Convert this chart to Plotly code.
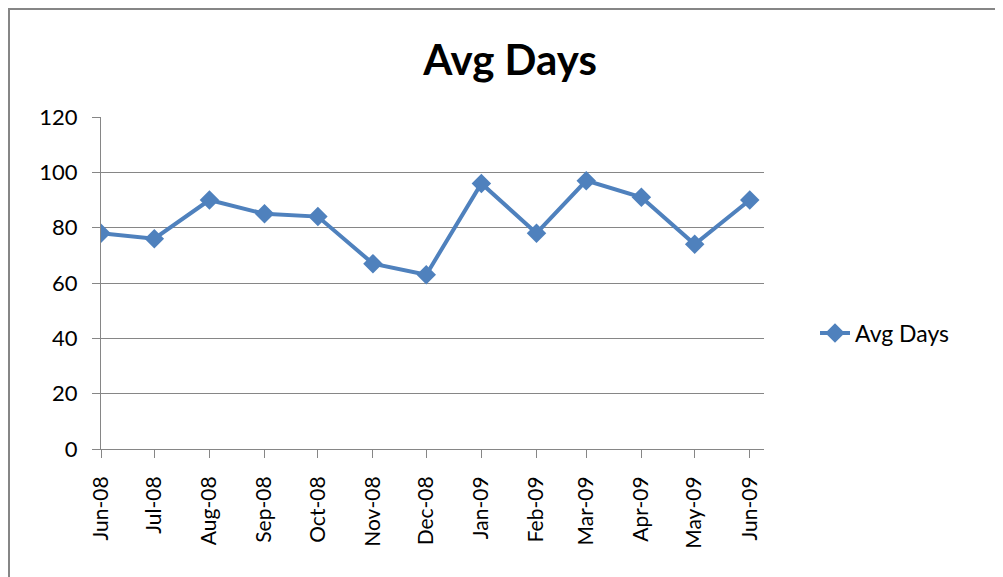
import plotly.graph_objects as go

# Data
month_labels = ["Jun-08", "Jul-08", "Aug-08", "Sep-08", "Oct-08", "Nov-08", "Dec-08",
                "Jan-09", "Feb-09", "Mar-09", "Apr-09", "May-09", "Jun-09"]
month_dates = ["2008-06-01", "2008-07-01", "2008-08-01", "2008-09-01", "2008-10-01",
               "2008-11-01", "2008-12-01", "2009-01-01", "2009-02-01", "2009-03-01",
               "2009-04-01", "2009-05-01", "2009-06-01"]
avg_days = [78, 76, 90, 85, 84, 67, 63, 96, 78, 97, 91, 74, 90]
y_ticks = [0, 20, 40, 60, 80, 100, 120]

BLUE = "#4F81BD"
GRID = "#868686"
FONT = "Lato"

fig = go.Figure()
fig.add_trace(go.Scatter(
    x=month_dates, y=avg_days, name="Avg Days", mode="lines+markers",
    line=dict(color=BLUE, width=4),
    marker=dict(symbol="diamond", size=15, color=BLUE),
))

OFF = 8  # page body margin
W, H = 1003 - OFF, 577 - OFF
# reference pixel positions of plot area
PL, PR, PT, PB = 101, 764, 117, 449
L, T = PL - OFF, PT - OFF
R = W - (PR - OFF)
B = H - (PB - OFF)
pw = PR - PL
ph = PB - PT

def px_x(p):
    return (p - PL) / pw

def px_y(p):
    return (PB - p) / ph

def fx(p):  # figure pixel -> paper x
    return (p - L) / pw

def fy(p):  # figure pixel -> paper y
    return (H - B - p) / ph

fig.update_layout(
    width=W, height=H,
    margin=dict(l=L, r=R, t=T, b=B),
    paper_bgcolor="white", plot_bgcolor="white",
    font=dict(family=FONT, color="black", size=18),
    title=dict(text="<b>Avg Days</b>", x=(510 - OFF) / W, xanchor="center",
               y=1 - (60 - OFF) / H, yanchor="middle",
               font=dict(family=FONT, size=42, color="black")),
    showlegend=True,
    legend=dict(x=px_x(815), y=px_y(333), xanchor="left", yanchor="middle",
                font=dict(family=FONT, size=23, color="black"),
                bgcolor="rgba(0,0,0,0)"),
    xaxis=dict(
        type="date",
        range=["2008-06-01", "2009-06-09"],
        tickvals=month_dates, ticktext=month_labels,
        tickangle=-90,
        showgrid=False,
        showline=True, linecolor=GRID, linewidth=1,
        ticks="outside", ticklen=8, tickcolor=GRID, tickwidth=1,
        tickfont=dict(family=FONT, size=21, color="black"),
        ticklabelstandoff=10,
        zeroline=False,
    ),
    yaxis=dict(
        range=[0, 120], tickvals=y_ticks,
        showgrid=True, gridcolor=GRID, gridwidth=1,
        showline=True, linecolor=GRID, linewidth=1,
        ticks="outside", ticklen=8, tickcolor=GRID, tickwidth=1,
        tickfont=dict(family=FONT, size=22, color="black"),
        ticklabelstandoff=10,
        zeroline=False,
    ),
    shapes=[
        dict(type="line", xref="paper", yref="paper",
             x0=fx(0.5), x1=fx(0.5), y0=fy(0), y1=fy(H),
             line=dict(color=GRID, width=3)),
        dict(type="line", xref="paper", yref="paper",
             x0=fx(0), x1=fx(W), y0=fy(1), y1=fy(1),
             line=dict(color=GRID, width=2)),
    ],
)

fig.write_html("out.html")
